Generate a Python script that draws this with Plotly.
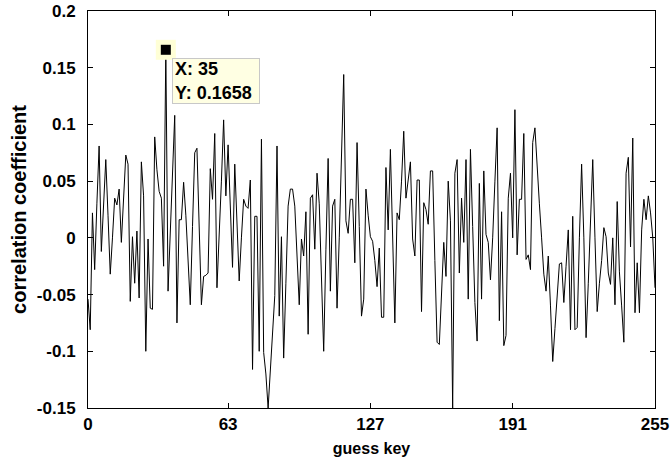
import plotly.graph_objects as go

guess_key = list(range(256))
corr = [
    -0.054, -0.081, 0.022, -0.028, 0.030, 0.081, -0.012, 0.030, 0.069, 0.020,
    -0.032, 0.000, 0.035, 0.029, 0.043, -0.004, 0.035, 0.073, 0.065, -0.056,
    0.001, -0.040, 0.006, -0.053, 0.067, 0.037, -0.100, -0.001, -0.062, -0.063,
    0.089, 0.060, 0.041, 0.035, -0.025, 0.1658, -0.047, 0.010, 0.060, 0.108,
    -0.075, 0.016, 0.016, 0.049, 0.020, -0.020, -0.059, 0.010, 0.075, 0.079,
    0.010, -0.059, -0.034, -0.033, -0.031, 0.061, 0.034, 0.092, -0.044, 0.000,
    0.050, 0.104, 0.037, 0.082, 0.020, -0.026, 0.065, 0.010, -0.038, 0.000,
    0.034, 0.028, 0.026, 0.051, -0.116, 0.019, 0.019, -0.100, 0.087, -0.101,
    -0.120, -0.150, -0.120, -0.085, -0.051, 0.081, -0.069, 0.001, -0.106, -0.040,
    0.028, 0.043, 0.043, 0.028, -0.016, -0.059, -0.001, -0.016, 0.023, -0.085,
    0.035, 0.038, -0.010, 0.057, 0.030, -0.040, -0.100, -0.010, 0.070, -0.047,
    0.028, 0.034, -0.062, 0.000, 0.070, 0.144, 0.015, 0.004, 0.034, 0.034,
    -0.022, 0.084, 0.010, -0.069, -0.054, 0.043, 0.020, 0.001, -0.003, -0.020,
    -0.043, -0.009, -0.070, -0.070, 0.062, 0.007, 0.078, 0.000, -0.075, 0.022,
    0.016, 0.050, 0.094, 0.035, 0.050, 0.067, -0.001, -0.016, 0.051, 0.051,
    -0.065, 0.031, 0.025, 0.012, 0.059, 0.059, -0.020, -0.092, -0.094, -0.050,
    -0.004, -0.034, 0.050, 0.015, -0.150, 0.057, 0.069, -0.031, 0.035, -0.004,
    0.069, -0.054, 0.078, 0.010, -0.057, -0.091, 0.048, -0.054, 0.059, 0.003,
    -0.004, -0.037, 0.000, 0.050, 0.097, -0.073, 0.023, -0.095, -0.086, 0.035,
    0.057, 0.000, 0.113, -0.015, 0.034, 0.034, 0.092, -0.019, -0.015, -0.028,
    0.084, 0.097, 0.060, 0.030, 0.000, -0.032, -0.047, -0.016, -0.060, -0.109,
    -0.080, -0.050, -0.023, -0.022, -0.057, -0.025, 0.007, -0.081, 0.019, -0.081,
    -0.079, 0.000, 0.065, 0.000, -0.088, -0.040, 0.015, 0.069, 0.000, -0.065,
    -0.040, -0.020, 0.009, 0.001, -0.031, -0.041, 0.000, -0.059, 0.032, -0.030,
    -0.060, -0.092, 0.057, 0.071, -0.008, 0.088, -0.066, -0.022, -0.066, 0.007,
    0.034, 0.016, 0.037, 0.022, 0.000, -0.044,
]
x_ticks = [0, 63, 127, 191, 255]
y_ticks = [0.2, 0.15, 0.1, 0.05, 0, -0.05, -0.1, -0.15]
y_tick_text = ["0.2", "0.15", "0.1", "0.05", "0", "-0.05", "-0.1", "-0.15"]
tip_x = 35
tip_y = 0.1658

font_fam = "Liberation Sans, Arial, sans-serif"
tick_font = dict(family=font_fam, size=17, color="black", weight="bold")
xtitle_font = dict(family=font_fam, size=16, color="black", weight="bold")
ytitle_font = dict(family=font_fam, size=20, color="black", weight="bold")
tip_font = dict(family=font_fam, size=18, color="black", weight="bold")

fig = go.Figure()
fig.add_trace(go.Scatter(x=guess_key, y=corr, mode="lines",
                         line=dict(color="black", width=1), hoverinfo="skip"))
fig.add_trace(go.Scatter(x=[tip_x], y=[tip_y], mode="markers",
                         marker=dict(symbol="square", size=20, color="#FFFFD6",
                                     line=dict(width=0)), hoverinfo="skip"))
fig.add_trace(go.Scatter(x=[tip_x], y=[tip_y], mode="markers",
                         marker=dict(symbol="square", size=10, color="black",
                                     line=dict(width=0)), hoverinfo="skip"))

fig.add_annotation(x=tip_x, y=tip_y, xref="x", yref="y",
                   text=f"X: {tip_x}<br>Y: {tip_y}", showarrow=False,
                   xanchor="left", yanchor="top", xshift=6, yshift=-8,
                   align="left", font=tip_font, bgcolor="#FFFFE3",
                   bordercolor="#C8C8C8", borderwidth=1, borderpad=2,
                   width=82, height=40)

axis_common = dict(showgrid=False, zeroline=False, showline=True,
                   linecolor="black", linewidth=1, mirror="ticks",
                   ticks="inside", ticklen=5, tickcolor="black",
                   tickfont=tick_font, automargin=False,
                   ticklabeloverflow="allow")

fig.update_xaxes(range=[0, 255], tickvals=x_ticks,
                 ticktext=[str(v) for v in x_ticks], ticklabelstandoff=1,
                 title=dict(text="guess key", font=xtitle_font, standoff=9),
                 **axis_common)
fig.update_yaxes(range=[-0.15, 0.2], tickvals=y_ticks, ticktext=y_tick_text,
                 ticklabelstandoff=8,
                 title=dict(text="correlation coefficient", font=ytitle_font, standoff=4),
                 **axis_common)

fig.update_layout(width=670, height=462, showlegend=False,
                  plot_bgcolor="white", paper_bgcolor="white",
                  margin=dict(l=88, r=15, t=11, b=54))

# remove the default 8px page margin so the figure fills the window exactly
fig.write_html("out.html", config={"displayModeBar": False},
               post_script="document.body.style.margin='0px';"
                           "document.body.style.overflow='hidden';")
